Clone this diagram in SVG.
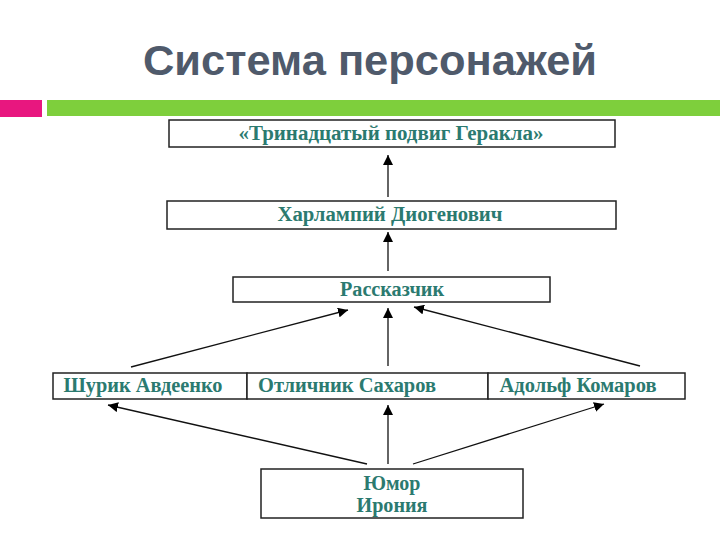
<svg xmlns="http://www.w3.org/2000/svg" width="720" height="540" viewBox="0 0 720 540">
<style>
.box{fill:#fff;stroke:#222;stroke-width:1.5}
.lbl{font-family:"Liberation Serif","Times New Roman",serif;font-weight:bold;font-size:20px;fill:#2b7a70;text-anchor:middle}
.title{font-family:"Liberation Sans",Arial,sans-serif;font-weight:bold;font-size:42px;fill:#4f5a6b;text-anchor:middle}
.con{stroke:#111;stroke-width:1.3;fill:none;marker-end:url(#ah)}
</style>
<defs>
<marker id="ah" viewBox="0 0 10 10" refX="10" refY="5" markerWidth="10" markerHeight="10" markerUnits="userSpaceOnUse" orient="auto">
<path d="M0,0 L10,5 L0,10 Z" fill="#000"/>
</marker>
</defs>
<rect width="720" height="540" fill="#fff"/>
<text class="title" x="370" y="75" textLength="454" lengthAdjust="spacingAndGlyphs">Система персонажей</text>
<rect x="0" y="100" width="42" height="17" fill="#e8177f"/>
<rect x="47" y="100" width="673" height="16" fill="#7ecf3c"/>
<g id="n1"><rect class="box" x="169" y="120" width="446" height="27"/><text class="lbl" x="391" y="140" textLength="305" lengthAdjust="spacingAndGlyphs">«Тринадцатый подвиг Геракла»</text></g>
<g id="n2"><rect class="box" x="167" y="201" width="449" height="28"/><text class="lbl" x="390" y="221" textLength="225" lengthAdjust="spacingAndGlyphs">Харлампий Диогенович</text></g>
<g id="n3"><rect class="box" x="233" y="277" width="317" height="25"/><text class="lbl" x="392" y="296" textLength="104" lengthAdjust="spacingAndGlyphs">Рассказчик</text></g>
<g id="n4"><rect class="box" x="53" y="373" width="194" height="26"/><text class="lbl" x="143" y="392" textLength="159" lengthAdjust="spacingAndGlyphs">Шурик Авдеенко</text></g>
<g id="n5"><rect class="box" x="247" y="373" width="241" height="26"/><text class="lbl" x="347" y="392" textLength="178" lengthAdjust="spacingAndGlyphs">Отличник Сахаров</text></g>
<g id="n6"><rect class="box" x="488" y="373" width="197" height="26"/><text class="lbl" x="578" y="392" textLength="157" lengthAdjust="spacingAndGlyphs">Адольф Комаров</text></g>
<g id="n7"><rect class="box" x="261" y="469" width="262" height="49"/><text class="lbl" x="392" y="490" textLength="57" lengthAdjust="spacingAndGlyphs">Юмор</text><text class="lbl" x="392" y="512" textLength="71" lengthAdjust="spacingAndGlyphs">Ирония</text></g>
<g id="connectors">
<line class="con" x1="388" y1="197" x2="388" y2="155"/>
<line class="con" x1="388" y1="271" x2="388" y2="232"/>
<line class="con" x1="131" y1="367" x2="348" y2="310"/>
<line class="con" x1="388" y1="366" x2="388" y2="308"/>
<line class="con" x1="640" y1="366" x2="414" y2="307"/>
<line class="con" x1="367" y1="464" x2="108" y2="405"/>
<line class="con" x1="388" y1="464" x2="388" y2="405"/>
<line class="con" x1="413" y1="464" x2="604" y2="404"/>
</g>
</svg>
